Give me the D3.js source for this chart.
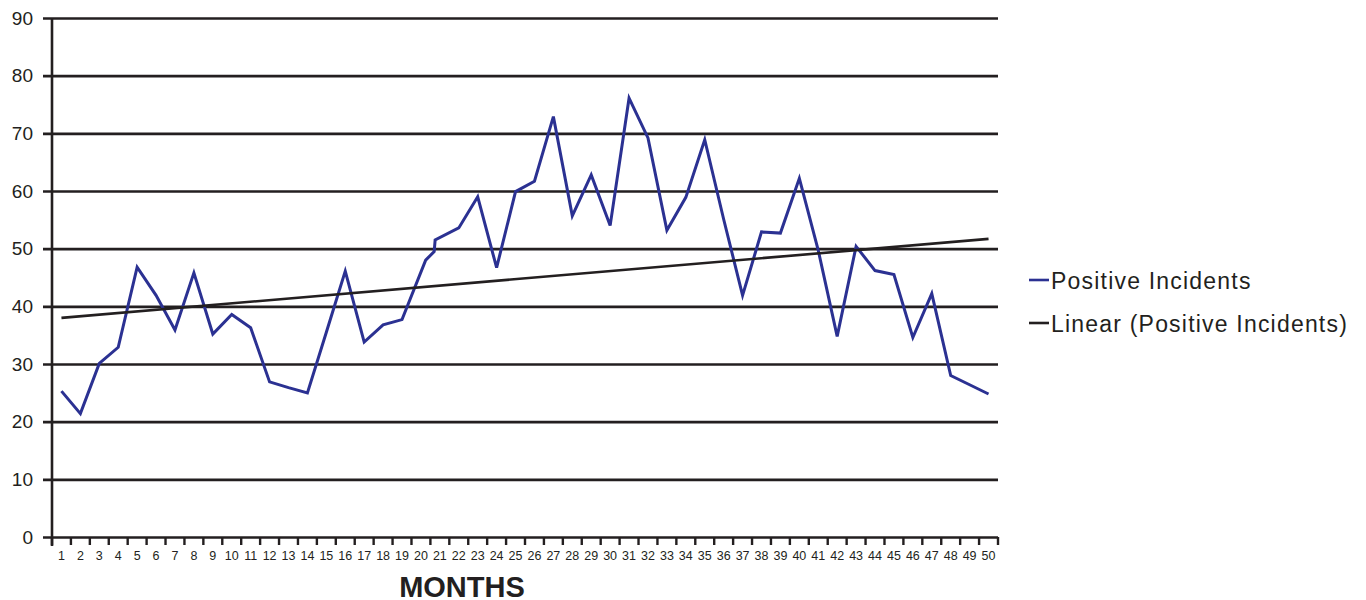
<!DOCTYPE html>
<html>
<head>
<meta charset="utf-8">
<script src="https://cdn.jsdelivr.net/npm/d3@7"></script>
<style>
  body { margin:0; background:#fff; }
  #chart { width:1366px; height:600px; }
  text { font-family: "Liberation Sans", Arial, sans-serif; fill:#231f20; }
</style>
</head>
<body>
<div id="chart"></div>
<script>
// tick labels of the x axis
var months = d3.range(1, 51);
// position (in months) of every vertex of the line, the jump near 21 is in the source
var pointMonth = [1,2,3,4,5,6,7,8,9,10,11,12,13,14,15,16,17,18,19,20.25,20.7,20.75,
    22,23,24,25,26,27,28,29,30,31,32,33,34,35,36,37,38,39,40,41,42,43,44,45,46,47,48,49,50];
var incidents = [25.3,21.4,30.1,32.9,46.8,41.9,35.9,45.8,35.2,38.6,36.3,26.9,25.9,25.0,35.5,46.1,33.8,36.8,37.7,48.0,49.5,51.5,
    53.6,59.0,46.7,59.9,61.7,72.9,55.7,62.8,54.0,76.1,69.2,53.2,58.9,68.9,55.1,41.9,52.9,52.7,62.2,49.7,34.8,50.4,46.2,45.5,34.6,42.2,28.0,26.4,24.8];
// linear trend, read at month 1 and month 50
var trendMonth = [1, 50];
var trendValue = [38.0, 51.7];
var yTicks = d3.range(0, 91, 10);
var legendLabels = ["Positive Incidents", "Linear (Positive Incidents)"];
var legendColors = ["#2b3192", "#231f20"];

var W = 1366, H = 600;
var mLeft = 52, mRight = 998, mTop = 18, mBottom = 537;

var svg = d3.select("#chart").append("svg").attr("width", W).attr("height", H);

var x = d3.scaleLinear().domain([0.5, 50.5]).range([mLeft, mRight]);
var y = d3.scaleLinear().domain([0, 90]).range([mBottom, mTop]);

// horizontal grid lines + y labels
var yAxis = d3.axisLeft(y).tickValues(yTicks).tickSize(-(mRight - mLeft + 9)).tickPadding(10);
var gy = svg.append("g").attr("transform", "translate(" + (mLeft - 9) + ",0)").call(yAxis);
gy.select(".domain").remove();
gy.selectAll(".tick line").attr("stroke", "#231f20").attr("stroke-width", 2.6);
gy.selectAll(".tick text").attr("x", -10).style("font-size", "19px").attr("fill", "#231f20")
    .style("font-family", "'Liberation Sans', Arial, sans-serif");

// vertical axis line
svg.append("line").attr("x1", mLeft).attr("x2", mLeft).attr("y1", mTop).attr("y2", mBottom + 9)
    .attr("stroke", "#231f20").attr("stroke-width", 2.6);

// x ticks on category boundaries
var bounds = d3.range(0.5, 51, 1);
svg.append("g").selectAll("line").data(bounds).enter().append("line")
    .attr("x1", d => x(d)).attr("x2", d => x(d))
    .attr("y1", mBottom).attr("y2", mBottom + 8)
    .attr("stroke", "#231f20").attr("stroke-width", 2.4);

svg.append("g").selectAll("text").data(months).enter().append("text")
    .attr("x", d => x(d)).attr("y", 560)
    .attr("text-anchor", "middle")
    .style("font-size", "12.5px")
    .text(d => d);

svg.append("text").attr("x", 462).attr("y", 597).attr("text-anchor", "middle")
    .style("font-size", "29px").style("font-weight", "bold").text("MONTHS");

// series
var pts = pointMonth.map((m, i) => [m, incidents[i]]);
var line = d3.line().x(d => x(d[0])).y(d => y(d[1]));
svg.append("path").datum(pts).attr("d", line)
    .attr("fill", "none").attr("stroke", legendColors[0]).attr("stroke-width", 3)
    .attr("stroke-linejoin", "miter");

svg.append("path").datum(trendMonth.map((m, i) => [m, trendValue[i]])).attr("d", line)
    .attr("fill", "none").attr("stroke", legendColors[1]).attr("stroke-width", 2.6);

// legend
var lg = svg.append("g").selectAll("g").data(legendLabels).enter().append("g")
    .attr("transform", (d, i) => "translate(1029," + (280 + i * 43) + ")");
lg.append("line").attr("x1", 0).attr("x2", 20).attr("y1", 0).attr("y2", 0)
    .attr("stroke", (d, i) => legendColors[i]).attr("stroke-width", 2.6);
lg.append("text").attr("x", 22).attr("y", 9).style("font-size", "23px")
    .style("letter-spacing", "1.2px").text(d => d);
</script>
</body>
</html>
